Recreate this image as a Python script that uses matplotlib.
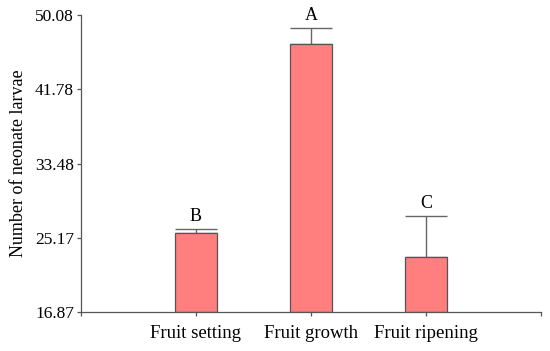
import matplotlib.pyplot as plt

plt.rcParams['font.family'] = ['Liberation Serif', 'DejaVu Serif']

stages = ["Fruit setting", "Fruit growth", "Fruit ripening"]
means = [25.67, 46.87, 22.99]
errors = [0.51, 1.79, 4.65]
letters = ["B", "A", "C"]
yticks = [16.87, 25.17, 33.48, 41.78, 50.08]

fig = plt.figure(figsize=(5.5, 3.51), dpi=100)
ax = fig.add_axes([0.147, 0.111, 0.837, 0.846])

pos = [1, 2, 3]
base = yticks[0]
ax.bar(pos, [m - base for m in means], bottom=base, width=0.36,
       color="#ff7f7f", edgecolor="#555555", linewidth=0.9, zorder=2)
ax.errorbar(pos, means, yerr=[[0, 0, 0], errors], fmt="none",
            ecolor="#666666", elinewidth=1.0, capsize=14.8, capthick=1.0, zorder=1)
for x, m, e, t in zip(pos, means, errors, letters):
    ax.text(x, m + e + 0.45, t, ha="center", va="bottom", fontsize=13)

ax.set_xlim(0, 4)
ax.set_ylim(base, yticks[-1])
ax.set_yticks(yticks)
ax.set_yticklabels([f"{v:.2f}" for v in yticks])
ax.set_xticks([0, 1, 2, 3, 4])
ax.set_xticklabels([""] + stages + [""])
ax.tick_params(length=3, color="#555555", width=0.9, pad=2)
ax.tick_params(axis="y", labelsize=12.5)
ax.tick_params(axis="x", labelsize=13.5, pad=6)
ax.set_ylabel("Number of neonate larvae", fontsize=13, labelpad=6)

for s in ["top", "right"]:
    ax.spines[s].set_visible(False)
for s in ["left", "bottom"]:
    ax.spines[s].set_color("#555555")
    ax.spines[s].set_linewidth(0.9)

fig.savefig("out.png", dpi=100)
